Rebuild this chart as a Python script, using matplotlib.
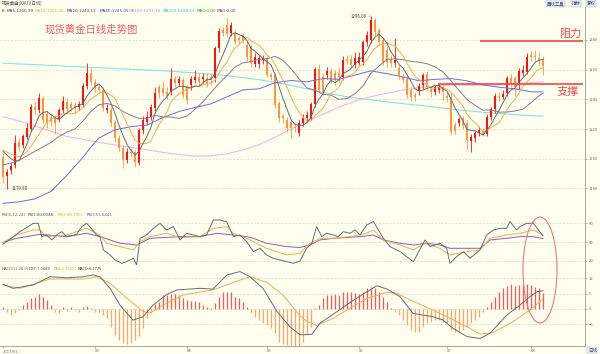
import numpy as np
import matplotlib.pyplot as plt
from matplotlib.patches import Ellipse

plt.rcParams['font.family'] = ['Noto Sans CJK SC', 'DejaVu Sans']

# daily candles, 2017-01-27 .. 2017-08-04
opens = [1201.4, 1188.6, 1192.4, 1195.8, 1211.5, 1209.3, 1214.9, 1220.1, 1235.1, 1232.9,
         1240.7, 1230.0, 1228.4, 1227.2, 1226.8, 1232.9, 1238.5, 1236.9, 1236.2, 1235.1,
         1236.2, 1249.0, 1257.5, 1251.9, 1248.5, 1246.3, 1233.0, 1232.9, 1225.0, 1213.8,
         1207.0, 1199.2, 1204.8, 1204.8, 1197.4, 1219.4, 1225.0, 1228.4, 1234.0, 1248.6,
         1247.4, 1245.2, 1245.2, 1253.5, 1250.8, 1253.0, 1249.0, 1249.7, 1253.0, 1255.3,
         1253.5, 1254.2, 1255.3, 1254.2, 1274.4, 1286.7, 1290.1, 1284.5, 1284.9, 1281.1,
         1283.4, 1276.6, 1275.9, 1263.8, 1263.6, 1266.5, 1267.0, 1256.4, 1256.4, 1237.8,
         1228.8, 1226.1, 1225.0, 1221.6, 1217.1, 1223.9, 1227.2, 1227.2, 1236.7, 1260.2,
         1255.3, 1256.4, 1259.1, 1258.0, 1258.0, 1255.3, 1267.0, 1267.0, 1263.2, 1264.7,
         1265.4, 1278.4, 1280.0, 1293.5, 1286.7, 1280.0, 1273.3, 1267.0, 1264.7, 1260.9,
         1255.3, 1253.5, 1246.3, 1243.0, 1245.9, 1249.7, 1257.1, 1246.8, 1245.2, 1246.3,
         1248.1, 1242.3, 1241.8, 1222.7, 1223.9, 1227.2, 1223.9, 1212.2, 1213.8, 1217.1,
         1218.3, 1216.7, 1228.0, 1233.3, 1242.3, 1241.4, 1244.1, 1254.2, 1254.2, 1249.7,
         1257.5, 1258.7, 1269.9, 1269.2, 1268.1, 1266.5]
highs = [1203, 1193, 1197, 1216, 1214, 1217, 1224, 1237, 1239, 1244,
         1242, 1233, 1231, 1229, 1234, 1242, 1241, 1239, 1238, 1239,
         1251, 1264.3, 1261, 1254, 1250, 1248, 1237, 1235, 1226, 1216,
         1209, 1207, 1207, 1206, 1221, 1229, 1232, 1237, 1248, 1250,
         1252.6, 1248, 1261, 1256, 1256, 1255, 1250, 1256, 1259.8, 1258,
         1258, 1258, 1257, 1276, 1288, 1289, 1294.6, 1292, 1287, 1283,
         1285, 1279, 1277, 1271, 1270, 1270, 1269, 1258, 1258, 1239,
         1230, 1228, 1227, 1224, 1226, 1230, 1232, 1238, 1262, 1264,
         1258, 1262, 1261, 1260, 1262, 1269, 1270, 1270, 1272, 1272,
         1280, 1286, 1296.06, 1295, 1288, 1282, 1276, 1270, 1281, 1263,
         1258, 1256, 1248, 1245, 1251, 1258, 1259, 1249, 1250, 1251,
         1250, 1245, 1244, 1225, 1228, 1229, 1226, 1217, 1219, 1222,
         1221, 1230, 1235, 1244, 1245, 1246, 1256, 1257, 1256, 1261,
         1263, 1271, 1272.6, 1273, 1272, 1269]
lows = [1184, 1179.8, 1190, 1194, 1205, 1207, 1213, 1219, 1230, 1231,
        1224, 1221, 1222, 1217, 1225, 1231, 1231, 1232, 1230, 1233,
        1235, 1247, 1250, 1245, 1244, 1232, 1231, 1222, 1211, 1205,
        1193.6, 1197, 1201, 1194.5, 1196, 1217, 1223, 1226, 1232, 1241,
        1242, 1240, 1243, 1248, 1249, 1241, 1237, 1246, 1251, 1249,
        1251, 1248, 1250, 1252, 1272, 1283, 1282, 1283, 1277, 1278,
        1278, 1266, 1262, 1262, 1261, 1264, 1255, 1253, 1234, 1225,
        1224, 1218, 1213.8, 1218, 1215, 1222, 1225, 1226, 1235, 1244,
        1243, 1254, 1251, 1250, 1252, 1253, 1264, 1261, 1261, 1263,
        1263, 1276, 1278, 1283, 1276, 1263, 1262, 1262, 1262, 1254,
        1251, 1241, 1239, 1239, 1243, 1247, 1246, 1241.8, 1243, 1244,
        1239.6, 1238, 1216, 1217, 1222, 1220, 1206.4, 1204.8, 1211, 1215,
        1215, 1215, 1226, 1231, 1239, 1240, 1242, 1248, 1242, 1247,
        1256, 1257, 1266, 1266, 1263, 1256.4]
closes = [1188.0, 1190.9, 1195.4, 1210.4, 1208.2, 1215.3, 1220.5, 1235.1, 1232.9, 1240.7,
          1226.1, 1224.0, 1225.0, 1223.9, 1232.9, 1239.1, 1233.5, 1234.4, 1234.0, 1236.7,
          1249.0, 1257.5, 1252.0, 1247.4, 1246.3, 1234.0, 1234.4, 1223.9, 1213.8, 1207.0,
          1199.2, 1204.8, 1203.7, 1198.1, 1219.4, 1226.1, 1228.4, 1234.6, 1244.1, 1244.1,
          1244.1, 1242.3, 1253.7, 1250.8, 1253.5, 1243.0, 1239.6, 1253.5, 1255.3, 1251.9,
          1255.3, 1251.3, 1253.0, 1274.4, 1286.3, 1284.9, 1284.0, 1290.1, 1278.9, 1280.0,
          1280.0, 1268.8, 1264.3, 1268.8, 1268.1, 1268.1, 1256.4, 1255.3, 1236.2, 1227.2,
          1227.2, 1220.5, 1220.5, 1220.5, 1223.9, 1227.7, 1229.5, 1236.7, 1260.2, 1246.3,
          1245.2, 1259.1, 1253.0, 1253.0, 1255.3, 1266.5, 1266.1, 1263.2, 1268.1, 1268.8,
          1278.4, 1283.4, 1293.5, 1285.6, 1278.9, 1265.4, 1265.4, 1264.3, 1266.5, 1256.4,
          1253.0, 1243.0, 1241.8, 1241.4, 1249.0, 1256.4, 1248.6, 1245.2, 1248.1, 1248.6,
          1245.2, 1240.7, 1218.3, 1218.9, 1226.6, 1222.7, 1212.6, 1214.9, 1217.1, 1219.4,
          1216.7, 1228.4, 1233.3, 1242.3, 1241.4, 1243.6, 1254.2, 1250.4, 1248.6, 1259.3,
          1259.8, 1268.8, 1268.8, 1268.3, 1265.9, 1262.5]

ma5 = [1205.0, 1202.5, 1200.0, 1198.5, 1198.6, 1204.0, 1210.0, 1217.9, 1222.4, 1228.9,
       1231.1, 1231.8, 1229.7, 1227.9, 1226.4, 1229.0, 1230.9, 1232.8, 1234.8, 1235.5,
       1237.5, 1242.3, 1245.8, 1248.5, 1250.4, 1247.4, 1242.8, 1237.2, 1230.5, 1222.6,
       1215.7, 1209.7, 1205.7, 1202.6, 1205.0, 1210.4, 1215.1, 1221.3, 1230.5, 1235.5,
       1239.1, 1241.8, 1245.7, 1247.0, 1248.9, 1248.7, 1248.1, 1248.1, 1249.0, 1248.7,
       1251.1, 1253.5, 1253.4, 1257.2, 1264.1, 1270.0, 1276.5, 1283.9, 1284.8, 1283.6,
       1282.6, 1279.6, 1274.4, 1272.4, 1270.0, 1267.6, 1265.1, 1263.3, 1256.8, 1248.6,
       1240.5, 1233.3, 1226.3, 1223.2, 1222.5, 1222.6, 1224.4, 1227.7, 1235.6, 1240.1,
       1243.6, 1249.5, 1252.8, 1251.3, 1253.1, 1257.4, 1258.8, 1260.8, 1263.8, 1266.5,
       1268.9, 1272.4, 1278.4, 1281.9, 1284.0, 1281.4, 1277.8, 1271.9, 1268.1, 1263.6,
       1261.1, 1256.6, 1252.1, 1247.1, 1245.6, 1246.3, 1247.4, 1248.1, 1249.5, 1249.4,
       1247.1, 1245.6, 1240.2, 1234.3, 1229.9, 1225.4, 1219.8, 1219.1, 1218.8, 1217.3,
       1216.1, 1219.3, 1223.0, 1228.0, 1232.4, 1237.8, 1243.0, 1246.4, 1247.6, 1251.2,
       1254.5, 1257.4, 1261.1, 1265.0, 1266.3, 1266.9]
ma10 = [1206.0, 1204.5, 1203.0, 1202.0, 1201.5, 1202.5, 1205.0, 1208.5, 1212.5, 1216.5,
        1220.6, 1224.9, 1226.1, 1228.4, 1228.8, 1230.4, 1230.3, 1230.4, 1230.6, 1232.3,
        1234.2, 1237.6, 1240.3, 1242.0, 1244.0, 1244.9, 1244.3, 1242.9, 1240.5, 1235.0,
        1229.3, 1223.5, 1218.1, 1212.6, 1210.4, 1210.1, 1210.4, 1212.0, 1217.8, 1223.0,
        1227.1, 1231.6, 1238.1, 1241.3, 1244.0, 1245.3, 1246.9, 1247.6, 1249.0, 1248.7,
        1249.6, 1250.8, 1251.2, 1253.0, 1257.6, 1261.8, 1265.0, 1270.6, 1274.5, 1276.8,
        1279.6, 1281.8, 1279.6, 1278.0, 1276.3, 1273.6, 1269.8, 1267.9, 1263.4, 1258.1,
        1252.8, 1248.3, 1241.6, 1235.9, 1231.5, 1228.0, 1225.4, 1225.5, 1229.1, 1231.4,
        1234.0, 1238.6, 1244.2, 1245.7, 1248.4, 1253.5, 1255.8, 1256.1, 1258.5, 1262.0,
        1263.9, 1266.6, 1271.1, 1274.2, 1276.5, 1276.9, 1278.1, 1276.9, 1276.1, 1272.5,
        1269.5, 1264.3, 1260.1, 1255.4, 1253.4, 1251.5, 1249.8, 1247.6, 1247.6, 1247.9,
        1247.3, 1246.9, 1244.9, 1241.9, 1238.5, 1235.5, 1230.0, 1226.7, 1224.4, 1221.4,
        1218.0, 1219.2, 1220.9, 1222.7, 1224.3, 1228.6, 1233.0, 1237.2, 1240.0, 1244.5,
        1248.8, 1251.9, 1254.4, 1258.1, 1260.4, 1261.3]
ma20_x = list(range(0, 135, 2)) + [135]
ma20 = [1196, 1197, 1199, 1202, 1205, 1208, 1211, 1215, 1218, 1220,
        1225.5, 1232.0, 1236.4, 1237.3, 1235.6, 1231.8, 1229.2, 1227.2, 1227.4, 1229.2,
        1228.2, 1228.1, 1227.2, 1228.7, 1233.4, 1238.4, 1244.7, 1250.8, 1256.0, 1261.8,
        1264.6, 1265.4, 1267.0, 1267.4, 1269.0, 1266.2, 1260.6, 1253.9, 1247.6, 1246.3,
        1243.4, 1242.9, 1240.0, 1240.6, 1243.8, 1249.0, 1257.7, 1262.5, 1267.0, 1267.3,
        1266.7, 1265.6, 1265.0, 1264.0, 1261.9, 1258.4, 1252.5, 1246.0, 1239.9, 1236.0,
        1232.7, 1232.9, 1231.4, 1231.5, 1232.2, 1233.4, 1237.7, 1242.4, 1244.1]
ma40_x = [0, 4, 8, 12, 16, 20, 22, 24, 28, 32, 36, 40, 44, 48, 52, 56, 60, 64, 68, 72,
          76, 80, 84, 88, 92, 96, 100, 104, 108, 112, 116, 120, 124, 128, 132, 135]
ma40 = [1170, 1171, 1173, 1178, 1189, 1201, 1208, 1214, 1219.5, 1221.6,
        1222.7, 1227.8, 1231.8, 1234.5, 1237.0, 1241.7, 1246.4, 1247.1, 1251.2, 1252.7,
        1251.8, 1254.0, 1253.5, 1256.4, 1259.2, 1257.3, 1255.1, 1252.5, 1253.5, 1254.0,
        1252.5, 1249.7, 1248.2, 1247.1, 1245.1, 1245.05]
ma100_x = list(range(0, 133, 4)) + [135]
ma100 = [1228.4, 1225.5, 1222, 1218.5, 1215, 1213, 1211, 1209.3, 1207.7, 1206,
         1204.3, 1202.8, 1201.8, 1202, 1203.3, 1206, 1209.5, 1214.5, 1220, 1225.3,
         1230, 1234.8, 1238.8, 1241.8, 1244.2, 1246.3, 1247.8, 1249, 1249.6, 1249.6,
         1249.5, 1249.8, 1250.4, 1251.2, 1251.8]
ma200_x = list(range(0, 129, 8)) + [135]
ma200 = [1264.3, 1263.4, 1262.3, 1261.3, 1260.3, 1259.3, 1257.8, 1256, 1253.3, 1249.5,
         1244.5, 1241, 1238.3, 1236, 1233.5, 1231.3, 1229.7, 1228.6]

resistance = 1279.5
support = 1250.2
resistance_from = 119.25
support_from = 108.75
line_to = 145

rsi1_x = [0, 2.6, 4.25, 5.9, 7.6, 8.8, 9.7, 10.9, 12.2, 13.4, 14.7, 15.9, 17.2, 18.4, 19.7,
          20.9, 22.2, 23.4, 24.25, 25.1, 26.75, 28, 29.7, 30.9, 32.6, 33.4, 34.25, 35.9, 37.6,
          39.25, 40.9, 42.6, 44.25, 45.9, 47.6, 49.25, 50.9, 52.6, 54.25, 55.9, 57.6, 59.25,
          60.9, 62.6, 64.25, 65.9, 67.6, 69.25, 70.9, 72.6, 74.25, 75.9, 77.2, 78.4, 79.7,
          80.9, 82.6, 83.8, 85.1, 86.75, 88, 89.25, 90.9, 92.6, 95.1, 96.75, 99.25, 102.6,
          105.5, 106.75, 109.25, 110.9, 111.75, 113.4, 115.1, 116.75, 119.25, 120.9, 122.6,
          124.25, 125.9, 126.75, 128.4, 129.25, 130.9, 132.6, 135]
rsi1 = [46.6, 58.8, 66.7, 73.1, 80, 80, 58.8, 61.4, 53.5, 61.4, 66.7, 58.8, 60.4, 62.5, 74.7,
        80, 71, 61.4, 58.8, 37.6, 29.6, 21.6, 16.3, 19, 24.3, 13.7, 56.1, 61.4, 72,
        80, 69.4, 74.7, 53.5, 64.1, 61.4, 58.8, 61.4, 85.3, 85.3, 82.7, 58.8, 61.4,
        50.8, 34.9, 40.2, 29.6, 24.3, 21.6, 19, 16.3, 20, 40.2, 48.2, 74.7, 58.8,
        64.1, 61.4, 58.8, 66.7, 64.1, 69.4, 61.4, 77.3, 82.7, 56.1, 42.9, 34.9, 19,
        53.5, 42.9, 48.2, 40.2, 16.3, 27, 34.9, 24.3, 37.6, 61.4, 69.4,
        72, 72, 82.7, 69.4, 74.7, 80, 80, 60.03]
rsi2_x = [0, 3.4, 7.6, 9.25, 10.9, 15.9, 20.9, 24.25, 25.9, 32.6, 34.25, 36.75, 40.9, 44.25,
          49.25, 52.6, 55.9, 57.6, 60.9, 65.9, 70.9, 74.25, 76.75, 79.25, 82.6, 86.75, 90.9,
          92.6, 95.1, 99.25, 102.6, 105.5, 109.25, 111.75, 116, 119.25, 121.75, 125.9,
          129.25, 132.6, 135]
rsi2 = [49.8, 61.4, 69.4, 69.4, 58.8, 61.4, 72, 61.4, 48.2, 37.6, 50.8, 58.8, 64.1, 57.2,
        58.8, 72, 74.7, 64.1, 56.1, 40.2, 29.6, 32, 48.2, 56.1, 56.1, 58.8, 64.1,
        69.4, 53.5, 45.5, 37.6, 48.2, 40.2, 29.6, 34.9, 37.6, 56.1, 61.4,
        64.1, 69.4, 60.8]
rsi3_x = [0, 3.4, 9.25, 15.9, 20.9, 24.25, 29.25, 33.4, 36.75, 44.25, 49.25, 53.4, 57.6,
          60.9, 62.6, 65.9, 70.9, 74.25, 76.75, 79.25, 82.6, 89.25, 92.6, 95.1, 99.25, 102.6,
          105.9, 109.25, 111.75, 119.25, 121.75, 125.9, 129.25, 132.6, 135]
rsi3 = [49.8, 56.1, 62.5, 58.8, 64.1, 58.8, 48.2, 45.5, 56.1, 58.8, 58.8, 64.1, 61.4,
        58.8, 56.1, 48.2, 42.9, 41.5, 45.5, 53.5, 56.1, 58.8, 61.4, 53.5, 48.2, 45.5,
        48.2, 45.5, 40.2, 40.2, 53.5, 56.1, 58.8, 58.8, 55.6]

diff_x = [0, 2.5, 7.5, 11.75, 16, 20, 22.5, 24.25, 26.75, 29.25, 32.5, 35, 37.5, 41, 43.5,
          49.25, 52.5, 56, 59.25, 61.75, 65, 68.5, 71.75, 74.25, 77.25, 79.25, 82.5, 86.75,
          91, 93.5, 96, 99.25, 102.5, 107.5, 110, 112.5, 116, 119.25, 121.75, 126, 129.25,
          131.75, 133.5, 135]
diff = [9.6, 8.0, 9.3, 12.5, 12.1, 12.5, 13.2, 12.5, 8.0, 1.5, -4.3, -3.0, 1.5, 5.7, 7.4,
        8.0, 7.7, 13.2, 14.5, 12.5, 8.0, -1.0, -6.9, -10.0, -9.8, -5.5, -2.1, 2.5,
        6.7, 9.0, 7.7, 4.8, -1.7, -3.0, -4.3, -7.5, -10.7, -11.4, -9.4, -2.3, 1.5,
        4.8, 6.7, 7.07]
dea_x = [0, 4.25, 11.75, 20, 23.5, 26.75, 31, 35, 36.75, 41, 45, 52.5, 59.25, 61.75, 66,
         70, 74.25, 76, 78.5, 82.5, 86.75, 91, 96, 98.5, 102.5, 107.5, 111.75, 116, 119.25,
         122.5, 127.5, 131.75, 135]
dea = [9.3, 8.0, 11.6, 11.6, 12.5, 10.0, 4.1, -1.0, -1.5, 2.3, 5.4, 7.4, 11.2, 12.5, 10.3,
       5.4, -2.7, -4.8, -6.4, -3.6, 0.3, 4.1, 6.5, 6.1, 3.0, -0.4, -3.6, -6.9, -9.7,
       -9.1, -4.9, -0.4, 3.93]
macd_hist = [0.9, -1.0, -2.3, -1.7, -0.5, 1.5, 2.8, 4.1, 4.8, 5.7,
             4.8, 3.5, 1.5, -1.0, -1.7, 0.9, -0.8, 0.9, -0.4, -1.0,
             0.9, 1.3, 0.5, -1.0, -1.7, -2.3, -3.6, -6.8, -10.0, -12.0,
             -13.3, -13.7, -13.3, -12.0, -10.5, -7.5, -3.6, -1.7, 1.8, 2.8,
             5.4, 5.4, 5.7, 5.7, 5.4, 4.1, 3.5, 3.1, 3.1, 2.8,
             1.5, 0.9, 0.5, 2.2, 4.8, 6.5, 6.5, 6.5, 4.8, 4.1,
             2.8, 0.9, -1.7, -3.0, -4.3, -5.6, -6.2, -7.5, -9.4, -12.7,
             -13.7, -14.0, -14.0, -14.2, -14.6, -12.7, -10.0, -6.8, 0.3, 1.5,
             4.1, 5.4, 5.4, 5.7, 5.4, 6.7, 6.7, 6.5, 6.1, 5.7,
             6.7, 8.0, 8.7, 8.0, 6.7, 4.8, 2.8, 0.3, -1.0, -2.3,
             -4.3, -6.2, -8.1, -9.0, -8.8, -6.8, -5.6, -4.9, -4.3, -4.3,
             -4.9, -5.6, -8.1, -9.0, -8.8, -8.1, -6.8, -5.6, -4.3, -3.0,
             -1.3, 0.9, 2.8, 4.8, 6.5, 8.0, 9.0, 9.6, 9.0, 9.3,
             9.6, 9.6, 9.3, 8.7, 8.0, 6.3]

month_idx = [0, 23, 46, 66, 89, 111, 132]
month_labels = ['2017/01', '03', '04', '05', '06', '07', '08']

# ---- figure ----
W, H = 600, 354
bg = '#fffff0'
grid_c = '#d6d6c8'
up_c, dn_c = '#ff1010', '#ff9440'
slate, orange, purple = '#5f6d7a', '#f7a94b', '#8e5db0'


def rect(x0, y0, x1, y1):
    return [x0 / W, 1 - y1 / H, (x1 - x0) / W, (y1 - y0) / H]


def fp(x, y):
    return x / W, 1 - y / H


fig = plt.figure(figsize=(6, 3.54), dpi=100, facecolor=bg)
ax = fig.add_axes(rect(0, 7, 585, 210))
ax_rsi = fig.add_axes(rect(0, 210, 585, 265))
ax_macd = fig.add_axes(rect(0, 265, 585, 346))

for a in (ax, ax_rsi, ax_macd):
    a.set_facecolor(bg)
    a.set_xlim(-0.75, 145.5)
    a.spines['left'].set_visible(False)
    a.spines['top'].set_visible(False)
    for s in ('right', 'bottom'):
        a.spines[s].set_color('#a8a8a0')
        a.spines[s].set_linewidth(0.7)
    a.yaxis.tick_right()
    a.tick_params(axis='y', labelsize=3, colors='#707070', length=1.5, width=0.4, pad=1.5)
    a.grid(axis='y', color=grid_c, lw=0.5, ls=(0, (3, 2)))
    a.set_axisbelow(True)

# main: candles + moving averages
idx = np.arange(len(closes))
o, h, l, c = (np.array(v) for v in (opens, highs, lows, closes))
col = [up_c if cc >= oo else dn_c for oo, cc in zip(opens, closes)]
ax.vlines(idx, l, h, colors=col, lw=0.6, zorder=2)
ax.bar(idx, np.maximum(np.abs(c - o), 0.35), bottom=np.minimum(o, c), width=0.72,
       color=col, linewidth=0, zorder=3)

ax.plot(ma200_x, ma200, color='#86e4e6', lw=0.8, zorder=1)
ax.plot(ma100_x, ma100, color='#f6b4e6', lw=0.8, zorder=1)
ax.plot(ma40_x, ma40, color='#6a6ae6', lw=0.7, zorder=4)
ax.plot(ma20_x, ma20, color='#8a7898', lw=0.7, zorder=4)
ax.plot(idx, ma10, color=orange, lw=0.7, zorder=4)
ax.plot(idx, ma5, color=slate, lw=0.7, zorder=4)

ax.hlines(resistance, resistance_from, line_to, color='#f04848', lw=1.2, zorder=5)
ax.hlines(support, support_from, line_to, color='#f04848', lw=1.2, zorder=5)

ax.set_ylim(1165.5, 1302.2)
ax.set_yticks([1180, 1200, 1220, 1240, 1260, 1280])
ax.tick_params(axis='x', bottom=False, labelbottom=False)

ax.annotate('1296.06', xy=(92, 1296.06), xytext=(-3, 0), textcoords='offset points',
            ha='right', va='center', fontsize=3.2, color='#404040',
            arrowprops=dict(arrowstyle='-', color='#606060', lw=0.4, shrinkA=0, shrinkB=0))
ax.annotate('1179.80', xy=(1, 1179.8), xytext=(3, 0), textcoords='offset points',
            ha='left', va='center', fontsize=3.2, color='#404040',
            arrowprops=dict(arrowstyle='-', color='#606060', lw=0.4, shrinkA=0, shrinkB=0))

# RSI
ax_rsi.plot(rsi3_x, rsi3, color=purple, lw=0.7)
ax_rsi.plot(rsi2_x, rsi2, color=orange, lw=0.7)
ax_rsi.plot(rsi1_x, rsi1, color=slate, lw=0.7)
ax_rsi.set_ylim(13.6, 101.2)
ax_rsi.set_yticks([20, 50, 80])
ax_rsi.tick_params(axis='x', bottom=False, labelbottom=False)

# MACD
bar_col = ['#f25a5a' if v >= 0 else '#f7a76e' for v in macd_hist]
ax_macd.vlines(idx, 0, macd_hist, colors=bar_col, lw=0.9)
ax_macd.plot(dea_x, dea, color=orange, lw=0.7)
ax_macd.plot(diff_x, diff, color=slate, lw=0.7)
ax_macd.set_ylim(-14.34, 17.05)
ax_macd.set_yticks([-6, 0, 6, 12])
ax_macd.set_xticks(month_idx)
ax_macd.set_xticklabels(month_labels, ha='left')
ax_macd.tick_params(axis='x', labelsize=3, colors='#707070', length=1.5, width=0.4, pad=1)

# header texts
fig.text(*fp(2, 3.5), '现货黄金(XAU)(日线)', fontsize=3.2, color='#505050', va='center')
hdr = [(2, 'K', '#303030'), (7, 'MA5:1266.99', '#404a55'), (35, 'MA10:1261.25', '#f0a030'),
       (67, 'MA20:1244.13', '#702880'), (100, 'MA40:1245.05', '#3a3ad0'),
       (129, 'MA100:1251.76', '#f070c0'), (163, 'MA200:1228.63', '#30c0c8'),
       (197, 'MA0:0.00', '#20a020'), (217, 'MA0:0.00', '#a020a0')]
for x, s, cc in hdr:
    fig.text(*fp(x, 10.5), s, fontsize=3.0, color=cc, va='center', family='DejaVu Sans')
rsi_hdr = [(2, 'RSI(6,12,24)', '#606060'), (28, 'RSI1:60.0348', '#404a55'),
           (58, 'RSI2:60.7952', '#f0a030'), (87, 'RSI3:55.6441', '#8040a0')]
for x, s, cc in rsi_hdr:
    fig.text(*fp(x, 215), s, fontsize=2.8, color=cc, va='center', family='DejaVu Sans')
macd_hdr = [(2, 'MACD(12,26,9)', '#606060'), (29, 'DIFF:7.0689', '#404a55'),
            (54, 'DEA:3.9302', '#f0a030'), (78, 'MACD:6.2775', '#303030')]
for x, s, cc in macd_hdr:
    fig.text(*fp(x, 269.5), s, fontsize=2.6, color=cc, va='center', family='DejaVu Sans')

fig.text(*fp(45, 30), '现货黄金日线走势图', fontsize=7.5, color='#f06060', va='center')
fig.text(*fp(559, 34), '阻力', fontsize=8, color='#f04848', va='center')
fig.text(*fp(557, 92), '支撑', fontsize=8, color='#f04848', va='center')

for x, s in [(547, '画线工具'), (572, '指标'), (587, '复权')]:
    fig.text(*fp(x, 3.5), s, fontsize=3.2, color='#304070', va='center',
             bbox=dict(boxstyle='square,pad=0.15', fc='#eef2f8', ec='#9aaac0', lw=0.3))
fig.text(*fp(588, 350), '日线', fontsize=3.2, color='#304070', va='center',
         bbox=dict(boxstyle='square,pad=0.15', fc='#eef2f8', ec='#9aaac0', lw=0.3))

fig.add_artist(Ellipse(fp(540, 270), 34 / W, 106 / H, transform=fig.transFigure,
                       fill=False, ec='#f07878', lw=0.8))

fig.savefig('out.png', dpi=100, facecolor=bg)
